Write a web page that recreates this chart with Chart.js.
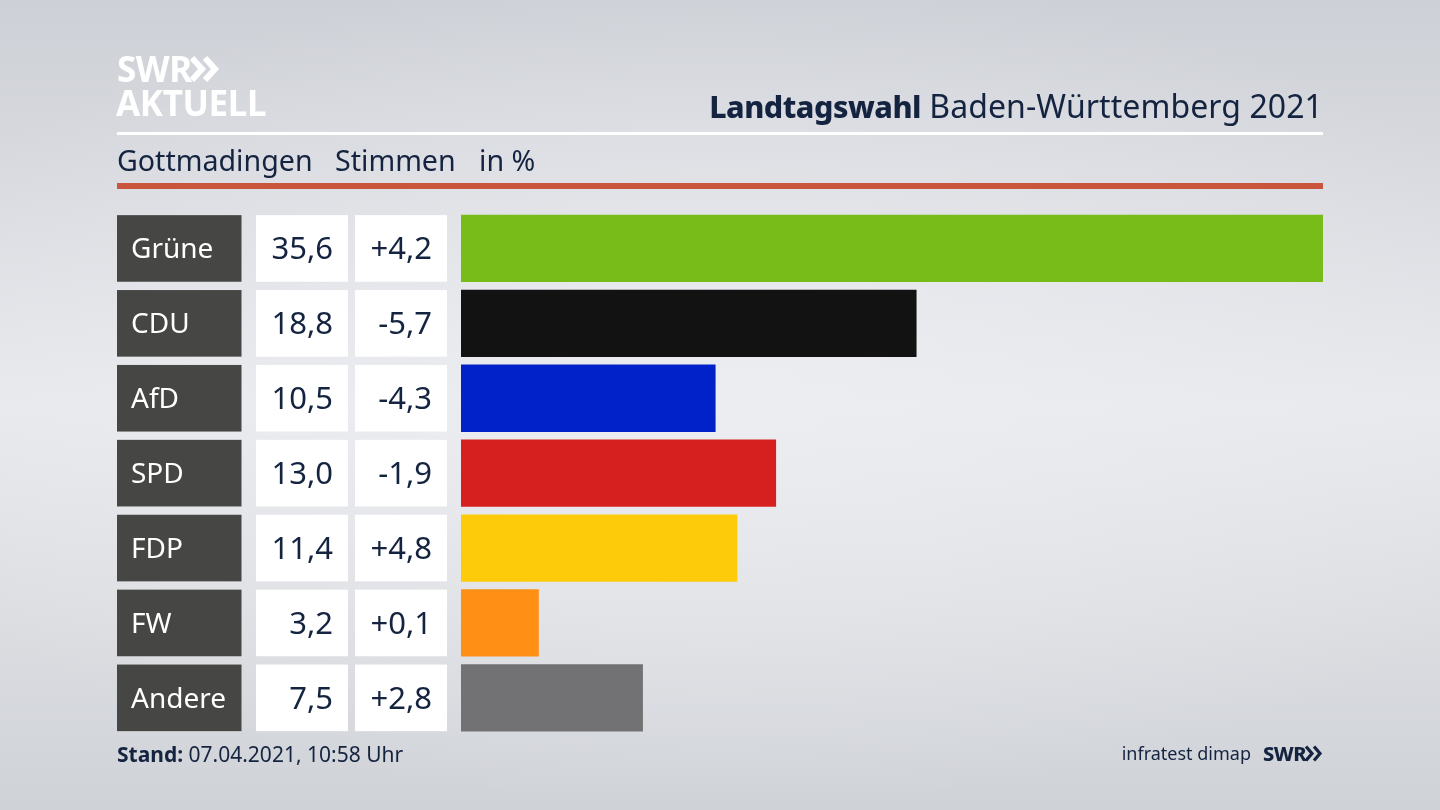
<!DOCTYPE html>
<html lang="de">
<head>
<meta charset="utf-8">
<title>Landtagswahl Baden-Württemberg 2021</title>
<script src="https://cdn.jsdelivr.net/npm/chart.js@4"></script>
<style>
  html, body { margin: 0; padding: 0; }
  body {
    width: 1440px; height: 810px; overflow: hidden; position: relative;
    font-family: "Noto Sans", sans-serif; color: #14233f;
    background:
      radial-gradient(ellipse 900px 420px at 50% 48%, rgba(238,239,243,.75), rgba(238,239,243,0) 100%),
      linear-gradient(180deg, #cdd0d6 0%, #d8dadf 22%, #e8e9ed 50%, #dcdee2 75%, #cfd2d7 100%);
  }
  #chart { position: absolute; left: 0; top: 0; }
  .abs { position: absolute; white-space: nowrap; line-height: 1; }
  .rule { position: absolute; left: 117px; width: 1206px; }
  #title { right: 117px; top: 90px; font-size: 32px; letter-spacing: .08px; }
  #title b { font-size: 30.5px; font-weight: 800; letter-spacing: -.5px; }
  #sub { left: 117px; top: 146px; font-size: 28.6px; }
  #s1, #s2, #s3 { position: absolute; top: 0; }
  #stand { left: 117px; top: 744px; font-size: 21px; }
  #inst { right: 189px; top: 744px; font-size: 18px; }
  #swr2 { left: 1263px; top: 744px; font-size: 20px; font-weight: 800; letter-spacing: -.5px; }
  #logo1 { left: 117px; top: 51px; font-size: 35px; font-weight: 700; color: #fff; letter-spacing: -.5px; }
  #logo2 { left: 116px; top: 85px; font-size: 35px; font-weight: 700; color: #fff; letter-spacing: -.4px; }
  svg { position: absolute; }
</style>
</head>
<body>
<canvas id="chart" width="1440" height="810" style="width:1440px;height:810px"></canvas>

<div class="abs" id="logo1">SWR</div>
<svg style="left:189px;top:56px" width="32" height="26" fill="none" stroke="#fff" stroke-width="6">
  <path d="M3 2 L13 13 L3 24 M16 2 L26 13 L16 24"/>
</svg>
<div class="abs" id="logo2">AKTUELL</div>

<div class="abs" id="title"><b>Landtagswahl</b> Baden-Württemberg 2021</div>
<div class="rule" style="top:132px;height:3px;background:#fff"></div>
<div class="abs" id="sub"><span id="s1" style="left:0">Gottmadingen</span><span id="s2" style="left:218px">Stimmen</span><span id="s3" style="left:362px">in %</span></div>
<div class="rule" style="top:183px;height:6px;background:#c9563c"></div>

<div class="abs" id="stand"><b>Stand:</b> 07.04.2021, 10:58 Uhr</div>
<div class="abs" id="inst">infratest dimap</div>
<div class="abs" id="swr2">SWR</div>
<svg style="left:1304px;top:745px" width="20" height="17" fill="none" stroke="#14233f" stroke-width="3.2">
  <path d="M2 1.5 L8 8.5 L2 15.5 M10 1.5 L16 8.5 L10 15.5"/>
</svg>

<script>
const parties = ['Grüne', 'CDU', 'AfD', 'SPD', 'FDP', 'FW', 'Andere']
const votes   = [35.6, 18.8, 10.5, 13.0, 11.4, 3.2, 7.5]
const changes = [4.2, -5.7, -4.3, -1.9, 4.8, 0.1, 2.8]
const colors  = ['#78bc1a', '#121212', '#0022c8', '#d6201f', '#fecb0a', '#ff9015', '#727274']

const deNum = v => Math.abs(v).toFixed(1).replace('.', ',')
const fmtChange = v => (v < 0 ? '-' : '+') + deNum(v)

// party name and the two number cells left of the bars, aligned on the y scale
const tableCells = {
  id: 'tableCells',
  afterDatasetsDraw(chart) {
    const { ctx } = chart
    const y = chart.scales.y
    const h = 66.6
    ctx.save()
    ctx.textBaseline = 'middle'
    parties.forEach((p, i) => {
      const cy = y.getPixelForValue(i)
      const top = cy - h / 2
      ctx.fillStyle = '#464644'
      ctx.fillRect(117, top, 124.5, h)
      ctx.fillStyle = '#fff'
      ctx.fillRect(256, top, 92, h)
      ctx.fillRect(355, top, 92, h)

      ctx.font = '28px "Noto Sans"'
      ctx.textAlign = 'left'
      ctx.fillStyle = '#fff'
      ctx.fillText(p, 131, cy + 2)

      ctx.font = '31px "Noto Sans"'
      ctx.textAlign = 'right'
      ctx.fillStyle = '#14233f'
      ctx.fillText(deNum(votes[i]), 333, cy + 2)
      ctx.fillText(fmtChange(changes[i]), 432, cy + 2)
    })
    ctx.restore()
  }
}

new Chart(document.getElementById('chart'), {
  type: 'bar',
  data: {
    labels: parties,
    datasets: [{
      data: votes,
      backgroundColor: colors,
      barThickness: 66.6,
      borderWidth: 0,
    }],
  },
  options: {
    indexAxis: 'y',
    responsive: false,
    animation: false,
    layout: { padding: { left: 461, right: 117, top: 211, bottom: 74.7 } },
    scales: {
      x: { display: false, min: 0, max: 35.6 },
      y: { display: false },
    },
    plugins: { legend: { display: false }, tooltip: { enabled: false } },
  },
  plugins: [tableCells],
})
</script>
</body>
</html>
